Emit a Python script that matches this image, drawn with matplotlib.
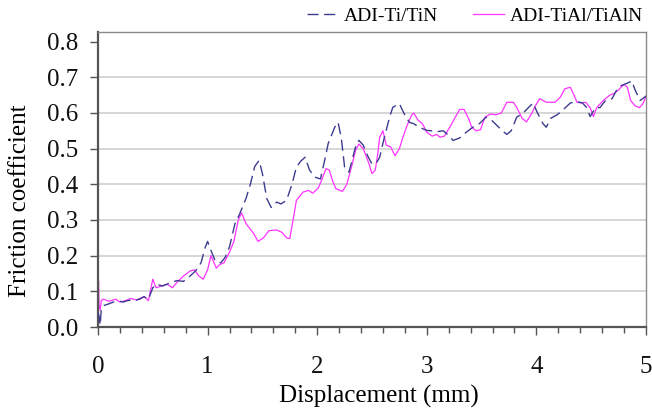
import matplotlib
matplotlib.use("Agg")
import matplotlib.pyplot as plt
from matplotlib.ticker import MultipleLocator

plt.rcParams['font.family'] = ['Liberation Serif', 'DejaVu Serif']

series_names = ["ADI-Ti/TiN", "ADI-TiAl/TiAlN"]

ti_x = [0.0, 0.01, 0.02, 0.03, 0.05, 0.1, 0.14, 0.2, 0.23, 0.28, 0.33, 0.38, 0.42, 0.46, 0.5, 0.53, 0.59,
        0.66, 0.72, 0.78, 0.84, 0.89, 0.94, 0.98, 1.0, 1.03, 1.07, 1.12, 1.16, 1.2, 1.25, 1.29, 1.35, 1.39,
        1.43, 1.47, 1.5, 1.54, 1.58, 1.63, 1.67, 1.72, 1.77, 1.81, 1.85, 1.89, 1.93, 1.98, 2.03, 2.07, 2.1,
        2.16, 2.19, 2.22, 2.25, 2.29, 2.35, 2.38, 2.42, 2.46, 2.5, 2.54, 2.57, 2.61, 2.66, 2.69, 2.75, 2.79,
        2.84, 2.88, 2.93, 3.0, 3.05, 3.1, 3.15, 3.2, 3.24, 3.3, 3.36, 3.42, 3.48, 3.54, 3.59, 3.64, 3.69,
        3.73, 3.77, 3.82, 3.88, 3.93, 3.97, 4.01, 4.06, 4.09, 4.13, 4.19, 4.25, 4.31, 4.37, 4.42, 4.46, 4.49,
        4.54, 4.58, 4.63, 4.69, 4.73, 4.76, 4.8, 4.84, 4.87, 4.9, 4.945, 4.97, 5.0]
ti_y = [0.04, 0.03, 0.005, 0.05, 0.06, 0.065, 0.07, 0.072, 0.07, 0.075, 0.074, 0.078, 0.085, 0.078, 0.11,
        0.12, 0.115, 0.124, 0.13, 0.128, 0.143, 0.157, 0.18, 0.225, 0.24, 0.215, 0.185, 0.18, 0.195, 0.225,
        0.29, 0.315, 0.36, 0.40, 0.45, 0.467, 0.43, 0.36, 0.335, 0.35, 0.345, 0.355, 0.40, 0.448, 0.465,
        0.476, 0.44, 0.42, 0.415, 0.47, 0.514, 0.56, 0.574, 0.53, 0.448, 0.434, 0.505, 0.523, 0.51, 0.48,
        0.457, 0.46, 0.476, 0.528, 0.588, 0.616, 0.626, 0.6, 0.574, 0.57, 0.56, 0.551, 0.55, 0.548, 0.55,
        0.537, 0.523, 0.53, 0.546, 0.56, 0.57, 0.588, 0.58, 0.565, 0.55, 0.54, 0.55, 0.588, 0.6, 0.616,
        0.628, 0.6, 0.57, 0.56, 0.585, 0.595, 0.611, 0.628, 0.632, 0.628, 0.615, 0.59, 0.615, 0.615, 0.635,
        0.64, 0.663, 0.675, 0.68, 0.685, 0.69, 0.665, 0.635, 0.64, 0.648]

tial_x = [0.0, 0.005, 0.01, 0.02, 0.03, 0.05, 0.1, 0.16, 0.2, 0.25, 0.3, 0.35, 0.42, 0.46, 0.5, 0.53, 0.58,
          0.63, 0.68, 0.72, 0.78, 0.84, 0.88, 0.92, 0.96, 1.0, 1.03, 1.08, 1.11, 1.15, 1.2, 1.24, 1.28, 1.31,
          1.35, 1.42, 1.46, 1.51, 1.56, 1.63, 1.68, 1.72, 1.75, 1.78, 1.81, 1.87, 1.92, 1.96, 2.01, 2.04,
          2.08, 2.11, 2.14, 2.17, 2.23, 2.27, 2.32, 2.35, 2.38, 2.42, 2.47, 2.5, 2.53, 2.55, 2.57, 2.6, 2.63,
          2.67, 2.71, 2.75, 2.78, 2.82, 2.86, 2.88, 2.92, 2.96, 3.0, 3.05, 3.09, 3.12, 3.16, 3.21, 3.26, 3.3,
          3.34, 3.38, 3.41, 3.45, 3.49, 3.53, 3.58, 3.63, 3.68, 3.73, 3.79, 3.82, 3.87, 3.91, 3.96, 3.99,
          4.03, 4.09, 4.17, 4.22, 4.26, 4.31, 4.34, 4.37, 4.41, 4.45, 4.49, 4.52, 4.55, 4.61, 4.67, 4.71,
          4.75, 4.8, 4.83, 4.86, 4.9, 4.94, 4.97, 5.0]
tial_y = [0.09, 0.127, 0.06, 0.047, 0.075, 0.078, 0.072, 0.078, 0.07, 0.074, 0.08, 0.076, 0.085, 0.074,
          0.134, 0.11, 0.115, 0.12, 0.11, 0.125, 0.143, 0.157, 0.16, 0.143, 0.134, 0.16, 0.2, 0.165, 0.175,
          0.18, 0.21, 0.24, 0.3, 0.32, 0.29, 0.262, 0.24, 0.25, 0.27, 0.272, 0.265, 0.25, 0.248, 0.3, 0.355,
          0.378, 0.383, 0.375, 0.39, 0.411, 0.444, 0.44, 0.41, 0.388, 0.38, 0.40, 0.457, 0.495, 0.513, 0.5,
          0.46, 0.43, 0.44, 0.48, 0.532, 0.55, 0.51, 0.505, 0.48, 0.5, 0.53, 0.565, 0.593, 0.6, 0.58, 0.57,
          0.546, 0.535, 0.54, 0.532, 0.535, 0.56, 0.588, 0.61, 0.61, 0.585, 0.56, 0.55, 0.553, 0.588, 0.597,
          0.595, 0.6, 0.63, 0.63, 0.616, 0.585, 0.575, 0.6, 0.62, 0.64, 0.63, 0.63, 0.645, 0.668, 0.672,
          0.652, 0.63, 0.628, 0.63, 0.615, 0.59, 0.615, 0.635, 0.65, 0.655, 0.665, 0.68, 0.672, 0.635, 0.62,
          0.615, 0.625, 0.645]

y_ticks = [0.0, 0.1, 0.2, 0.3, 0.4, 0.5, 0.6, 0.7, 0.8]
x_ticks = [0, 1, 2, 3, 4, 5]

fig = plt.figure(figsize=(6.52, 4.15), dpi=100)
ax = fig.add_axes([98 / 652, 88 / 415, 548 / 652, 295 / 415])

for g in y_ticks[1:-1]:
    ax.axhline(g, color='#d0d0d0', lw=1.2, zorder=0)

l1, = ax.plot(ti_x, ti_y, color='#3c3c90', lw=1.0, dashes=(8, 4), zorder=3)
l2, = ax.plot(tial_x, tial_y, color='#ff33ff', lw=0.9, zorder=2)

ax.set_xlim(0, 5)
ax.set_ylim(0, 0.827)
ax.set_xticks(x_ticks)
ax.set_xticklabels([str(v) for v in x_ticks])
ax.xaxis.set_minor_locator(MultipleLocator(0.2))
ax.set_yticks(y_ticks)
ax.set_yticklabels([f"{v:.1f}" for v in y_ticks])

ax.tick_params(axis='both', which='major', direction='out', length=6, width=1, color='#555555',
               labelsize=18, labelcolor='#111111')
ax.tick_params(axis='x', which='major', pad=15)
ax.tick_params(axis='y', which='major', pad=8)
ax.tick_params(axis='x', which='minor', direction='out', length=4, width=1, color='#555555')

for s in ['left', 'bottom']:
    ax.spines[s].set_color('#555555')
    ax.spines[s].set_linewidth(1.6)
for s in ['top', 'right']:
    ax.spines[s].set_color('#8a8a8a')
    ax.spines[s].set_linewidth(1.0)

ax.set_xlabel("Displacement (mm)", fontsize=18, va='center')
ax.xaxis.set_label_coords(0.513, -0.234)
ax.set_ylabel("Friction coefficient", fontsize=18, va='center')
ax.yaxis.set_label_coords(-0.142, 0.427)

fig.legend([l1, l2], series_names, loc='upper right', bbox_to_anchor=(1.013, 1.025), ncol=2,
           frameon=False, fontsize=14, handlelength=1.6, columnspacing=1.8, handletextpad=0.3)

fig.savefig("out.png", dpi=100)
